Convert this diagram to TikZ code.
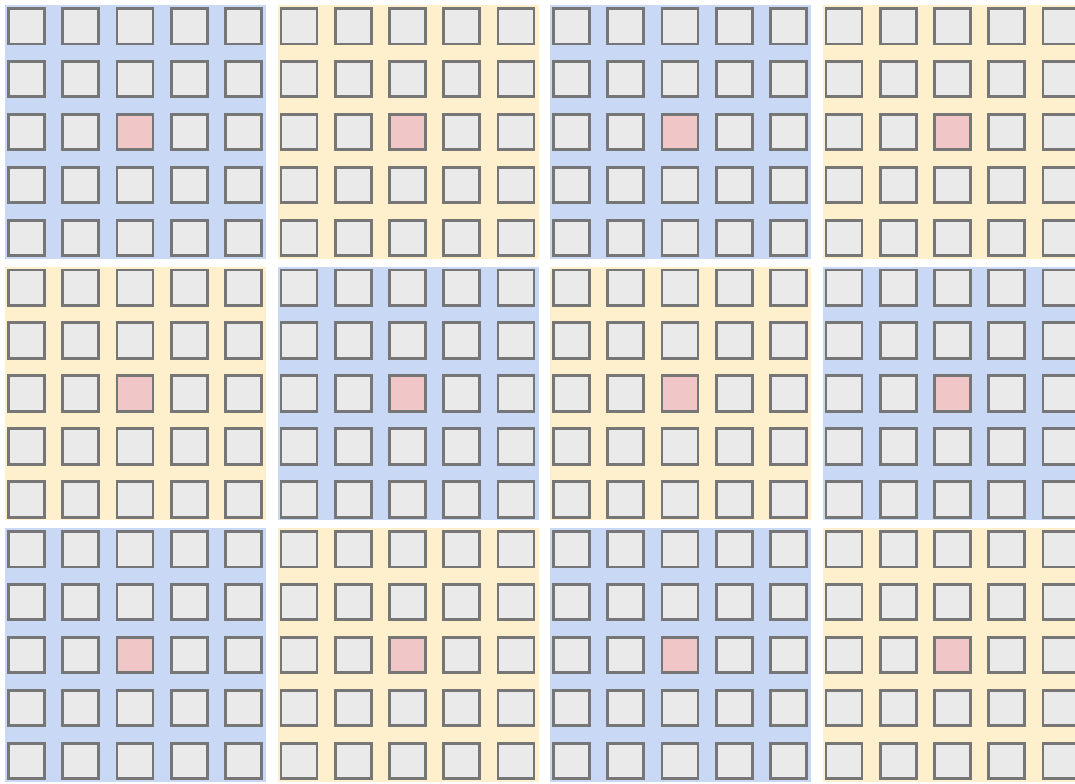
\documentclass[tikz,border=0pt]{standalone}
\usepackage{tikz}
\usetikzlibrary{positioning}
\definecolor{cellgray}{RGB}{234,234,234}
\definecolor{cellline}{RGB}{118,118,118}
\definecolor{tileblue}{RGB}{200,216,245}
\definecolor{tileyellow}{RGB}{255,240,205}
\definecolor{centerred}{RGB}{240,198,198}

\begin{document}
\begin{tikzpicture}[x=0.025cm, y=-0.025cm,
    cell/.style={draw=cellline, fill=cellgray, line width=2.1pt, inner sep=0pt,
                 minimum width=0.9cm, minimum height=0.8875cm, anchor=north west}]
  \useasboundingbox (0,0) rectangle (1075,783);
  \clip (0,0) rectangle (1075,783);
  % 3 x 4 tiles, 5 x 5 cells each
  \foreach \i in {0,1,2} {
    \foreach \j in {0,...,3} {
      \pgfmathsetmacro{\bx}{7+272.5*\j}
      \pgfmathsetmacro{\by}{7+261.5*\i}
      \pgfmathtruncatemacro{\tileodd}{mod(\i+\j,2)}
      \ifnum\tileodd=0 \def\tilecol{tileblue}\else\def\tilecol{tileyellow}\fi
      \fill[\tilecol] (\bx-2,\by-2) rectangle (\bx+259,\by+251.6);
      \foreach \r in {0,...,4} {
        \foreach \c in {0,...,4} {
          \def\cellcol{cellgray}
          \ifnum\r=2 \ifnum\c=2 \def\cellcol{centerred}\fi\fi
          \node[cell, fill=\cellcol] (cell-\i-\j-\r-\c) at (\bx+54.25*\c, \by+52.9*\r) {};
        }
      }
    }
  }
\end{tikzpicture}
\end{document}
